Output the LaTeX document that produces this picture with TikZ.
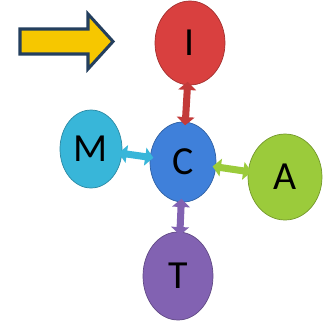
\documentclass[tikz,border=0pt]{standalone}
\usepackage{fontspec}
\setsansfont{Carlito}
\usetikzlibrary{shapes.geometric,arrows.meta}

\definecolor{iRed}{HTML}{D9403F}
\definecolor{cBlue}{HTML}{3F80DA}
\definecolor{mCyan}{HTML}{38B6D9}
\definecolor{aGreen}{HTML}{9BCB3B}
\definecolor{tPurple}{HTML}{8262B2}
\definecolor{arrYellow}{HTML}{F6C700}
\definecolor{arrNavy}{HTML}{243F5E}

\tikzset{
  ball/.style={ellipse, draw=#1!75!black, line width=0.6pt, fill=#1,
    inner sep=0pt, font=\sffamily\fontsize{34}{36}\selectfont},
  link/.style={draw=#1, line width=6pt, shorten <=-3pt, shorten >=-3pt,
    {Triangle[width=15pt,length=7pt]}-{Triangle[width=15pt,length=7pt]}}
}

\begin{document}
\begin{tikzpicture}[x=0.03cm, y=-0.03cm]
	\useasboundingbox (0,0) rectangle (333,323);

	% the letters
	\node[ball=iRed, minimum width=70*0.03cm, minimum height=84*0.03cm] (I) at (190,43) {I};
	\node[ball=cBlue, minimum width=66*0.03cm, minimum height=80*0.03cm] (C) at (183,162) {C};
	\node[ball=mCyan, minimum width=62*0.03cm, minimum height=78*0.03cm] (M) at (91,149) {M};
	\node[ball=aGreen, minimum width=74*0.03cm, minimum height=86*0.03cm] (A) at (285,177) {A};
	\node[ball=tPurple, minimum width=70*0.03cm, minimum height=88*0.03cm] (T) at (178,276) {T};

	% links to the centre
	\draw[link=iRed!90!black] (I) -- (C);
	\draw[link=mCyan] (M) -- (C);
	\draw[link=aGreen] (C) -- (A);
	\draw[link=tPurple] (C) -- (T);

	% block arrow
	\draw[arrNavy, line width=2.6pt, fill=arrYellow, line join=miter]
		(20,29) -- (88,29) -- (88,14) -- (113,41.5) -- (88,69) -- (88,54) -- (20,54) -- cycle;
\end{tikzpicture}
\end{document}
